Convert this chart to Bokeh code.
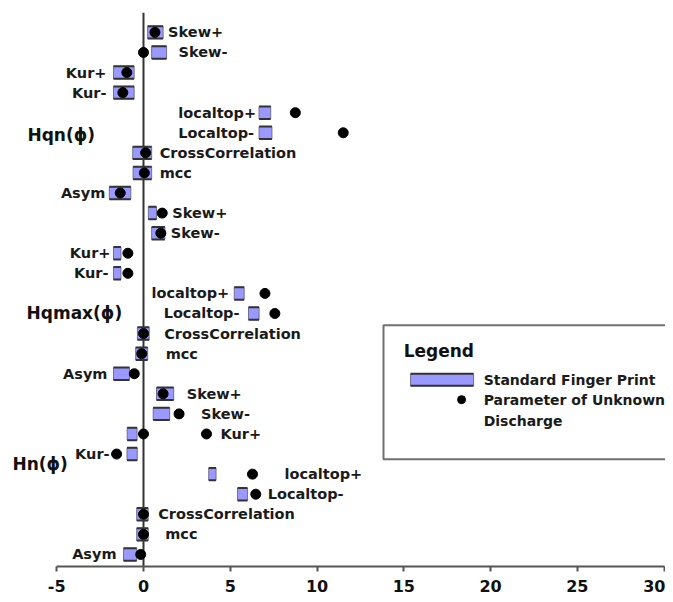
from bokeh.plotting import figure
from bokeh.models import Range1d, Span, FixedTicker, ColumnDataSource, LinearAxis, Label
from bokeh.embed import file_html
from bokeh.resources import INLINE
from bokeh.core.properties import value

# ---------------- data ----------------
groups = ["Hqn(ϕ)", "Hqmax(ϕ)", "Hn(ϕ)"]
params = ["Skew+", "Skew-", "Kur+", "Kur-", "localtop+", "Localtop-",
          "CrossCorrelation", "mcc", "Asym"]

# Standard finger print ranges (low / high) and unknown discharge parameter
hqn_fp_low = [0.24, 0.47, -1.73, -1.73, 6.66, 6.66, -0.62, -0.60, -1.97]
hqn_fp_high = [1.13, 1.33, -0.54, -0.54, 7.33, 7.40, 0.47, 0.47, -0.73]
hqn_unknown = [0.66, 0.00, -0.96, -1.19, 8.75, 11.51, 0.12, 0.05, -1.34]

hqmax_fp_low = [0.28, 0.47, -1.73, -1.73, 5.23, 6.05, -0.35, -0.45, -1.73]
hqmax_fp_high = [0.75, 1.23, -1.30, -1.30, 5.80, 6.66, 0.33, 0.24, -0.81]
hqmax_unknown = [1.08, 1.00, -0.90, -0.90, 7.00, 7.57, 0.00, -0.10, -0.53]

hn_fp_low = [0.75, 0.56, -0.94, -0.95, 3.76, 5.42, -0.39, -0.39, -1.15]
hn_fp_high = [1.74, 1.51, -0.37, -0.36, 4.18, 5.99, 0.27, 0.27, -0.39]
hn_unknown = [1.13, 2.05, 3.63, -1.55, 6.28, 6.47, 0.00, 0.00, -0.16]

# one additional unknown-discharge point drawn in the Hn(ϕ) Kur+ row
extra_group = ["Hn(ϕ)"]
extra_param = ["Kur+"]
extra_value = [0.00]

tick_values = [-5, 0, 5, 10, 15, 20, 25, 30]

legend_title = "Legend"
legend_fp = "Standard Finger Print"
legend_unknown = ["Parameter of Unknown", "Discharge"]

# ---------------- layout (not data) ----------------
# signed label gaps in px: + label right of the marks, - label left of the marks
label_gaps = [5, 12, -7, -7, -3, -5, 8, 8, -4,
              5, 6, -3, -5, -5, -9, 15, 18, -6,
              13, 17, 9, -2, 27, 7, 10, 17, -7]
group_label_pos = [(-6.69, 5.1), (-6.74, 5.0), (-7.55, 3.5)]  # (x, row offset in group)
BAR_H = 0.62
DOT = 10
FONT = "DejaVu Sans"
BAR_FILL = "#9999ff"
BAR_EDGE = "#333333"
BAR_SIDE = "#6f6f8f"
X_END = 30.08

fp_low = hqn_fp_low + hqmax_fp_low + hn_fp_low
fp_high = hqn_fp_high + hqmax_fp_high + hn_fp_high
unknown = hqn_unknown + hqmax_unknown + hn_unknown
row_group = [g for g in groups for _ in params]
row_param = [pp for _ in groups for pp in params]
row_y = [-i for i in range(len(row_param))]

src = ColumnDataSource(dict(lo=fp_low, hi=fp_high, u=unknown, y=row_y,
                            top=[y + BAR_H / 2 for y in row_y],
                            bot=[y - BAR_H / 2 for y in row_y]))

p = figure(width=665, height=594,
           x_range=Range1d(-8.24, X_END), y_range=Range1d(-26.6, 0.99),
           output_backend="svg", toolbar_location=None,
           x_axis_location=None, y_axis_location=None,
           min_border_left=0, min_border_right=0, min_border_top=12, min_border_bottom=22)
p.outline_line_color = None
p.xgrid.visible = False
p.ygrid.visible = False
p.background_fill_color = "white"

p.add_layout(Span(location=0, dimension="height", line_color="#333333",
                  line_width=2, level="underlay"))

axis = LinearAxis(ticker=FixedTicker(ticks=tick_values), bounds=(-5, 30),
                  major_label_overrides={t: str(t) for t in tick_values})
axis.axis_line_color = "#555555"
axis.axis_line_width = 2
axis.major_tick_line_color = "#555555"
axis.major_tick_line_width = 2
axis.major_tick_out = 5
axis.major_tick_in = 0
axis.minor_tick_line_color = None
axis.major_label_text_font = FONT
axis.major_label_text_font_style = "bold"
axis.major_label_text_font_size = "16px"
axis.major_label_text_color = "#111111"
axis.major_label_standoff = 8
p.add_layout(axis, "below")


def fp_bar(source, lo, hi, top, bot):
    p.quad(left=lo, right=hi, top=top, bottom=bot, source=source,
           fill_color=BAR_FILL, line_color=BAR_SIDE, line_width=1)
    p.segment(x0=lo, x1=hi, y0=top, y1=top, source=source, line_color=BAR_EDGE, line_width=2)
    p.segment(x0=lo, x1=hi, y0=bot, y1=bot, source=source, line_color=BAR_EDGE, line_width=2)


# finger print bars
fp_bar(src, "lo", "hi", "top", "bot")
# unknown discharge points
p.scatter(x="u", y="y", source=src, size=DOT, color="black")
ex_y = [row_y[[i for i in range(len(row_y)) if row_group[i] == g and row_param[i] == pr][0]]
        for g, pr in zip(extra_group, extra_param)]
p.scatter(x=extra_value, y=ex_y, size=DOT, color="black")

# parameter labels
R = dict(x=[], y=[], t=[], o=[])
L = dict(x=[], y=[], t=[], o=[])
for lo, hi, u, y, t, g in zip(fp_low, fp_high, unknown, row_y, row_param, label_gaps):
    if g > 0:
        R["x"].append(max(hi, u)); R["y"].append(y); R["t"].append(t)
        R["o"].append(g + (DOT / 2 if u > hi else 0))
    else:
        L["x"].append(min(lo, u)); L["y"].append(y); L["t"].append(t)
        L["o"].append(g - (DOT / 2 if u < lo else 0))
for d, align in ((R, "left"), (L, "right")):
    p.text(x="x", y="y", text="t", x_offset="o", source=ColumnDataSource(d),
           text_align=align, text_baseline="middle", text_font=value(FONT),
           text_font_style="bold", text_font_size="14.5px", text_color="#1a1a1a")

# group labels
for gi, (g, (gx, gy)) in enumerate(zip(groups, group_label_pos)):
    p.add_layout(Label(x=gx, y=-(gi * len(params) + gy), text=g, text_align="left",
                       text_baseline="middle", text_font=FONT, text_font_style="bold",
                       text_font_size="17px", text_color="#111111"))

# legend (drawn by hand, like the original; its right side runs off the plot)
LG_L, LG_R, LG_T, LG_B = 13.83, X_END, -14.58, -21.26
p.line(x=[LG_R, LG_L, LG_L, LG_R], y=[LG_T, LG_T, LG_B, LG_B],
       line_color="#707070", line_width=2)
p.add_layout(Label(x=14.99, y=-15.87, text=legend_title, text_baseline="middle",
                   text_font=FONT, text_font_style="bold", text_font_size="17px",
                   text_color="#111111"))
leg_src = ColumnDataSource(dict(lo=[15.39], hi=[19.02], top=[-17.3 + 0.3], bot=[-17.3 - 0.3]))
fp_bar(leg_src, "lo", "hi", "top", "bot")
p.scatter(x=[18.33], y=[-18.29], size=8, color="black")
for txt, ly in ((legend_fp, -17.3), (legend_unknown[0], -18.29), (legend_unknown[1], -19.33)):
    p.add_layout(Label(x=19.6, y=ly, text=txt, text_baseline="middle",
                       text_font=FONT, text_font_style="bold", text_font_size="14px",
                       text_color="#1a1a1a"))

open("out.html", "w").write(file_html(p, INLINE))
